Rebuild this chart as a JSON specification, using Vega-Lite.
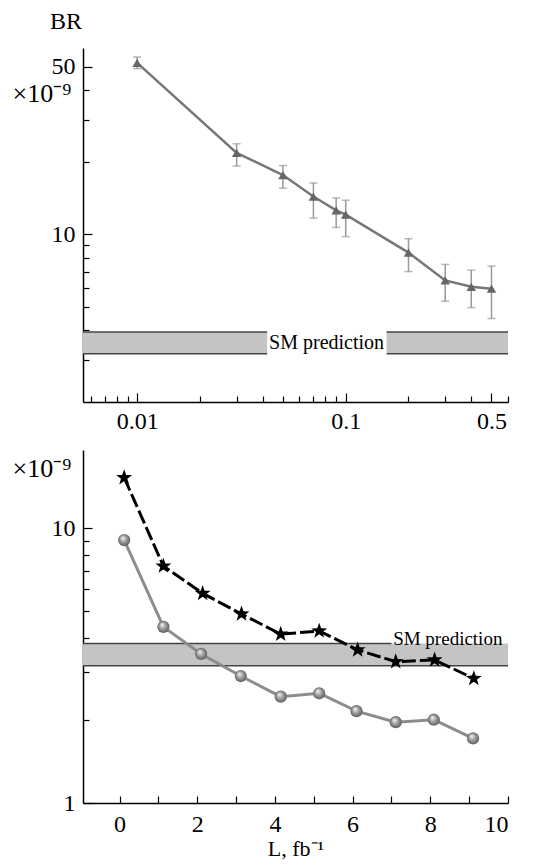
{
  "$schema": "https://vega.github.io/schema/vega-lite/v6.json",
  "background": "white",
  "padding": {"left": 12, "top": 10, "right": 5, "bottom": 5},
  "bounds": "flush",
  "spacing": 48,
  "config": {
    "view": {"stroke": null},
    "font": "Liberation Serif",
    "text": {"font": "Liberation Serif"},
    "axis": {
      "grid": false, "domainColor": "black", "domainWidth": 1.5,
      "tickColor": "black", "tickWidth": 1.2,
      "labelFont": "Liberation Serif", "labelFontSize": 24, "labelColor": "black",
      "titleFont": "Liberation Serif", "titleFontWeight": "normal", "titleColor": "black",
      "labelOverlap": false
    }
  },
  "vconcat": [
    {
      "width": 425,
      "height": 354,
      "title": {"text": "BR", "anchor": "start", "frame": "group", "dx": -33, "offset": 14, "fontSize": 24, "fontWeight": "normal", "font": "Liberation Serif", "color": "black"},
      "layer": [
        {
          "data": {"name": "bandtop"},
          "mark": {"type": "rect", "fill": "#c4c4c4"},
          "encoding": {
            "x": {"field": "x1", "type": "quantitative", "scale": {"type": "log", "domain": [0.0055, 0.6], "nice": false},
              "axis": {"title": null, "values": [0.006,0.007,0.008,0.009,0.01,0.02,0.03,0.04,0.05,0.06,0.07,0.08,0.09,0.1,0.2,0.3,0.4,0.5,0.6],
                "labelExpr": "datum.value == 0.01 ? '0.01' : datum.value == 0.1 ? '0.1' : datum.value == 0.5 ? '0.5' : ''",
                "tickSize": {"condition": {"test": "datum.value == 0.01 || datum.value == 0.1 || datum.value == 0.5", "value": -9}, "value": -6},
                "labelPadding": 16}},
            "x2": {"field": "x2"},
            "y": {"field": "lo", "type": "quantitative", "scale": {"type": "log", "domain": [2, 60], "nice": false},
              "axis": {"title": "×10⁻⁹", "titleAngle": 0, "titleAlign": "left", "titleBaseline": "middle", "titleX": -71, "titleY": 45, "titleFontSize": 26,
                "values": [3,4,5,6,7,8,9,10,20,30,40,50],
                "labelExpr": "datum.value == 10 || datum.value == 50 ? datum.label : ''",
                "tickSize": {"condition": {"test": "datum.value == 10 || datum.value == 50", "value": -9}, "value": -6},
                "labelPadding": 17}},
            "y2": {"field": "hi"}
          }
        },
        {
          "data": {"name": "bandtop"},
          "mark": {"type": "rule", "color": "#444", "strokeWidth": 1.5},
          "encoding": {
            "x": {"field": "x1", "type": "quantitative", "scale": {"type": "log", "domain": [0.0055, 0.6], "nice": false}},
            "x2": {"field": "x2"},
            "y": {"field": "hi", "type": "quantitative", "scale": {"type": "log", "domain": [2, 60], "nice": false}}
          }
        },
        {
          "data": {"name": "bandtop"},
          "mark": {"type": "rule", "color": "#444", "strokeWidth": 1.5},
          "encoding": {
            "x": {"field": "x1", "type": "quantitative", "scale": {"type": "log", "domain": [0.0055, 0.6], "nice": false}},
            "x2": {"field": "x2"},
            "y": {"field": "lo", "type": "quantitative", "scale": {"type": "log", "domain": [2, 60], "nice": false}}
          }
        },
        {
          "data": {"values": [{"x": 0.081, "y": 3.53, "t": "SM prediction"}]},
          "mark": {"type": "text", "fontSize": 20, "font": "Liberation Serif", "color": "black", "baseline": "middle"},
          "encoding": {
            "x": {"field": "x", "type": "quantitative", "scale": {"type": "log", "domain": [0.0055, 0.6], "nice": false}},
            "y": {"field": "y", "type": "quantitative", "scale": {"type": "log", "domain": [2, 60], "nice": false}},
            "text": {"field": "t"}
          }
        },
        {
          "data": {"name": "top"},
          "mark": {"type": "errorbar", "ticks": {"size": 8}, "color": "#999", "thickness": 1.5},
          "encoding": {
            "x": {"field": "x", "type": "quantitative", "title": null, "scale": {"type": "log", "domain": [0.0055, 0.6], "nice": false}},
            "y": {"field": "lo", "type": "quantitative", "title": "×10⁻⁹", "scale": {"type": "log", "domain": [2, 60], "nice": false}},
            "y2": {"field": "hi"}
          }
        },
        {
          "data": {"name": "top"},
          "mark": {"type": "line", "color": "#777", "strokeWidth": 2.5},
          "encoding": {
            "x": {"field": "x", "type": "quantitative", "scale": {"type": "log", "domain": [0.0055, 0.6], "nice": false}},
            "y": {"field": "y", "type": "quantitative", "scale": {"type": "log", "domain": [2, 60], "nice": false}}
          }
        },
        {
          "data": {"name": "top"},
          "mark": {"type": "point", "shape": "triangle-up", "size": 90, "filled": true, "color": "#666", "opacity": 1},
          "encoding": {
            "x": {"field": "x", "type": "quantitative", "scale": {"type": "log", "domain": [0.0055, 0.6], "nice": false}},
            "y": {"field": "y", "type": "quantitative", "scale": {"type": "log", "domain": [2, 60], "nice": false}}
          }
        }
      ]
    },
    {
      "width": 425,
      "height": 353,
      "layer": [
        {
          "data": {"name": "bandbot"},
          "mark": {"type": "rect", "fill": "#c4c4c4"},
          "encoding": {
            "x": {"field": "x1", "type": "quantitative", "scale": {"domain": [-0.94, 10], "nice": false, "zero": false},
              "axis": {"title": "L, fb⁻¹", "titleFontSize": 22, "titlePadding": 2,
                "values": [0,1,2,3,4,5,6,7,8,9,10],
                "labelExpr": "datum.value % 2 == 0 ? datum.label : ''",
                "tickSize": -7, "labelPadding": 16}},
            "x2": {"field": "x2"},
            "y": {"field": "lo", "type": "quantitative", "scale": {"type": "log", "domain": [1, 19.3], "nice": false},
              "axis": {"title": "×10⁻⁹", "titleAngle": 0, "titleAlign": "left", "titleBaseline": "middle", "titleX": -71, "titleY": 18, "titleFontSize": 26,
                "values": [1,2,3,4,5,6,7,8,9,10],
                "labelExpr": "datum.value == 1 || datum.value == 10 ? datum.label : ''",
                "tickSize": {"condition": {"test": "datum.value == 10 || datum.value == 1", "value": -9}, "value": -6},
                "labelPadding": 17}},
            "y2": {"field": "hi"}
          }
        },
        {
          "data": {"name": "linesbot"},
          "mark": {"type": "rule", "color": "#444", "strokeWidth": 1.5},
          "encoding": {
            "x": {"field": "x1", "type": "quantitative", "scale": {"domain": [-0.94, 10], "nice": false, "zero": false}},
            "x2": {"field": "x2"},
            "y": {"field": "y", "type": "quantitative", "scale": {"type": "log", "domain": [1, 19.3], "nice": false}}
          }
        },
        {
          "data": {"values": [{"x": 8.45, "y": 3.76, "t": "SM prediction"}]},
          "mark": {"type": "text", "fontSize": 19, "font": "Liberation Serif", "color": "black", "baseline": "alphabetic"},
          "encoding": {
            "x": {"field": "x", "type": "quantitative", "scale": {"domain": [-0.94, 10], "nice": false, "zero": false}},
            "y": {"field": "y", "type": "quantitative", "scale": {"type": "log", "domain": [1, 19.3], "nice": false}},
            "text": {"field": "t"}
          }
        },
        {
          "data": {"name": "spheres"},
          "mark": {"type": "line", "color": "#8c8c8c", "strokeWidth": 3},
          "encoding": {
            "x": {"field": "x", "type": "quantitative", "scale": {"domain": [-0.94, 10], "nice": false, "zero": false}},
            "y": {"field": "y", "type": "quantitative", "scale": {"type": "log", "domain": [1, 19.3], "nice": false}}
          }
        },
        {
          "data": {"name": "spheres"},
          "mark": {"type": "point", "shape": "circle", "size": 150, "filled": true, "opacity": 1,
            "fill": {"gradient": "radial", "x1": 0.38, "y1": 0.32, "r1": 0.02, "x2": 0.5, "y2": 0.5, "r2": 0.55,
              "stops": [{"offset": 0, "color": "#f4f4f4"}, {"offset": 0.45, "color": "#a0a0a0"}, {"offset": 1, "color": "#555555"}]}},
          "encoding": {
            "x": {"field": "x", "type": "quantitative", "scale": {"domain": [-0.94, 10], "nice": false, "zero": false}},
            "y": {"field": "y", "type": "quantitative", "scale": {"type": "log", "domain": [1, 19.3], "nice": false}}
          }
        },
        {
          "data": {"name": "stars"},
          "mark": {"type": "line", "color": "black", "strokeWidth": 3, "strokeDash": [14, 4]},
          "encoding": {
            "x": {"field": "x", "type": "quantitative", "scale": {"domain": [-0.94, 10], "nice": false, "zero": false}},
            "y": {"field": "y", "type": "quantitative", "scale": {"type": "log", "domain": [1, 19.3], "nice": false}}
          }
        },
        {
          "data": {"name": "stars"},
          "mark": {"type": "point", "shape": "M0,-1L0.235,-0.324L0.951,-0.309L0.38,0.124L0.588,0.809L0,0.4L-0.588,0.809L-0.38,0.124L-0.951,-0.309L-0.235,-0.324Z", "size": 280, "filled": true, "color": "black", "opacity": 1},
          "encoding": {
            "x": {"field": "x", "type": "quantitative", "scale": {"domain": [-0.94, 10], "nice": false, "zero": false}},
            "y": {"field": "y", "type": "quantitative", "scale": {"type": "log", "domain": [1, 19.3], "nice": false}}
          }
        }
      ]
    }
  ],
  "datasets": {
    "bandtop": [
      {"x1": 0.0055, "x2": 0.042, "lo": 3.18, "hi": 3.92},
      {"x1": 0.157, "x2": 0.6, "lo": 3.18, "hi": 3.92}
    ],
    "bandbot": [
      {"x1": -0.94, "x2": 10, "lo": 3.16, "hi": 3.81}
    ],
    "linesbot": [
      {"x1": -0.94, "x2": 7.0, "y": 3.81},
      {"x1": -0.94, "x2": 10, "y": 3.16}
    ],
    "top": [
      {"x": 0.01, "y": 52, "lo": 49.2, "hi": 55},
      {"x": 0.03, "y": 21.9, "lo": 19.3, "hi": 23.9},
      {"x": 0.05, "y": 17.7, "lo": 15.6, "hi": 19.4},
      {"x": 0.07, "y": 14.4, "lo": 11.7, "hi": 16.4},
      {"x": 0.09, "y": 12.6, "lo": 10.7, "hi": 14.2},
      {"x": 0.1, "y": 12.1, "lo": 9.8, "hi": 13.9},
      {"x": 0.2, "y": 8.4, "lo": 7.0, "hi": 9.6},
      {"x": 0.3, "y": 6.43, "lo": 5.27, "hi": 7.5},
      {"x": 0.4, "y": 6.05, "lo": 4.95, "hi": 7.1},
      {"x": 0.5, "y": 5.94, "lo": 4.46, "hi": 7.38}
    ],
    "stars": [
      {"x": 0.12, "y": 15.3},
      {"x": 1.13, "y": 7.29},
      {"x": 2.14, "y": 5.8},
      {"x": 3.14, "y": 4.88},
      {"x": 4.15, "y": 4.12},
      {"x": 5.14, "y": 4.23},
      {"x": 6.13, "y": 3.61},
      {"x": 7.11, "y": 3.27},
      {"x": 8.11, "y": 3.32},
      {"x": 9.12, "y": 2.84}
    ],
    "spheres": [
      {"x": 0.12, "y": 9.07},
      {"x": 1.13, "y": 4.38},
      {"x": 2.1, "y": 3.49},
      {"x": 3.12, "y": 2.9},
      {"x": 4.15, "y": 2.44},
      {"x": 5.14, "y": 2.51},
      {"x": 6.1, "y": 2.16},
      {"x": 7.11, "y": 1.97},
      {"x": 8.09, "y": 2.01},
      {"x": 9.1, "y": 1.72}
    ]
  }
}
